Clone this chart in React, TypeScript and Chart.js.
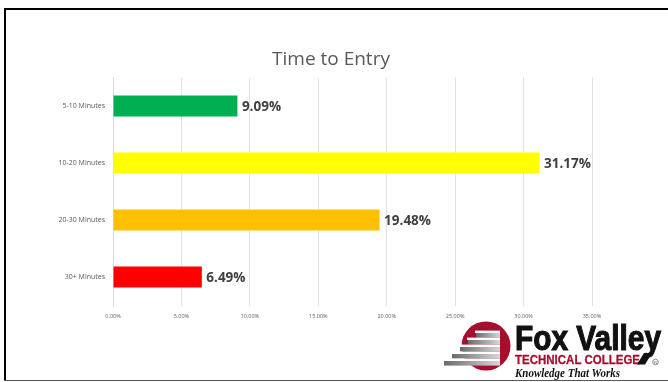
import React, { useEffect, useRef } from "react";
import { Chart, registerables } from "chart.js";

Chart.register(...registerables);

const chartTitle = "Time to Entry";
const categories = ["5-10 Minutes", "10-20 Minutes", "20-30 Minutes", "30+ Minutes"];
const values = [9.09, 31.17, 19.48, 6.49];
const barColors = ["#00B050", "#FFFF00", "#FFC000", "#FF0000"];
const xMin = 0;
const xMax = 35;
const xStep = 5;

const W = 668;
const H = 382;
const AREA = { left: 113, right: 592, top: 77.5, bottom: 305.5 };

const valueLabels = {
  id: "valueLabels",
  afterDatasetsDraw(chart: any) {
    const ctx = chart.ctx;
    const meta = chart.getDatasetMeta(0);
    ctx.save();
    ctx.font = "bold 13.5px 'Open Sans'";
    ctx.fillStyle = "#404040";
    ctx.textAlign = "left";
    ctx.textBaseline = "middle";
    meta.data.forEach((bar: any, i: number) => {
      ctx.fillText(values[i].toFixed(2) + "%", bar.x + 4.5, bar.y + 1);
    });
    ctx.restore();
  },
};

function Logo() {
  const stripes = [0, 1, 2, 3, 4];
  return (
    <svg
      width={W}
      height={H}
      viewBox={`0 0 ${W} ${H}`}
      style={{ position: "absolute", left: 0, top: 0, pointerEvents: "none" }}
    >
      <defs>
        <linearGradient id="stripeGrad" x1="0" x2="1" y1="0" y2="0">
          <stop offset="0" stopColor="#6a6a6a" />
          <stop offset="1" stopColor="#d8d8d8" />
        </linearGradient>
      </defs>
      <circle cx={486} cy={346} r={24.5} fill="#A50E2D" />
      {stripes.map((i) => {
        const y = 333 + i * 7;
        const x0 = 476 - i * 8;
        return (
          <g key={i}>
            <rect x={x0 - 1} y={y - 2.4} width={501 - x0} height={2.4} fill="#ffffff" />
            <rect x={x0} y={y} width={500 - x0} height={4.6} fill="url(#stripeGrad)" />
          </g>
        );
      })}
      <text
        x={515}
        y={350}
        fontFamily="'Liberation Sans', Arial, sans-serif"
        fontWeight="bold"
        fontSize={35}
        fill="#111111"
        stroke="#111111"
        strokeWidth={1.1}
        textLength={146}
        lengthAdjust="spacingAndGlyphs"
      >
        Fox Valley
      </text>
      <text
        x={515}
        y={364}
        fontFamily="'Liberation Sans', Arial, sans-serif"
        fontWeight="bold"
        fontSize={13.5}
        fill="#A50E2D"
        stroke="#A50E2D"
        strokeWidth={0.3}
        textLength={125}
        lengthAdjust="spacingAndGlyphs"
      >
        TECHNICAL COLLEGE
      </text>
      <polygon points="644,353 652,353 645,364.5 637,364.5" fill="#111111" />
      <circle cx={655.5} cy={362} r={2.8} fill="none" stroke="#444" strokeWidth={0.6} />
      <text x={654.2} y={363.6} fontSize={3.8} fontFamily="'Liberation Sans'" fill="#444">
        R
      </text>
      <text
        x={515}
        y={377}
        fontFamily="'Liberation Serif', serif"
        fontWeight="bold"
        fontStyle="italic"
        fontSize={13}
        fill="#111111"
        textLength={105}
        lengthAdjust="spacingAndGlyphs"
      >
        Knowledge That Works
      </text>
    </svg>
  );
}

export default function App() {
  const canvasRef = useRef<HTMLCanvasElement | null>(null);

  useEffect(() => {
    document.body.style.margin = "0";
    const canvas = canvasRef.current;
    if (!canvas) return;
    const chart = new Chart(canvas, {
      type: "bar",
      data: {
        labels: categories,
        datasets: [
          {
            data: values,
            backgroundColor: barColors,
            borderWidth: 0,
            barPercentage: 0.37,
            categoryPercentage: 1,
          },
        ],
      },
      options: {
        indexAxis: "y",
        animation: false,
        responsive: false,
        maintainAspectRatio: false,
        devicePixelRatio: 1,
        layout: {
          padding: { left: 0, right: W - AREA.right, top: AREA.top, bottom: 0 },
        },
        plugins: {
          legend: { display: false },
          title: { display: false },
          tooltip: { enabled: false },
        },
        scales: {
          x: {
            type: "linear",
            position: "bottom",
            min: xMin,
            max: xMax,
            ticks: {
              stepSize: xStep,
              padding: 8,
              color: "#595959",
              font: { family: "'Open Sans'", size: 5.5 },
              callback: (v: any) => Number(v).toFixed(2) + "%",
              maxRotation: 0,
            },
            grid: { color: "#E2E2E2", lineWidth: 1, drawTicks: false },
            border: { display: false },
            afterFit: (s: any) => {
              s.height = H - AREA.bottom;
            },
          },
          y: {
            type: "category",
            position: "left",
            ticks: {
              padding: 8,
              color: "#595959",
              font: { family: "'Open Sans'", size: 7 },
            },
            grid: { display: false, drawTicks: false },
            border: { display: true, color: "#D9D9D9", width: 1 },
            afterFit: (s: any) => {
              s.width = AREA.left;
            },
          },
        },
      },
      plugins: [valueLabels],
    });
    return () => chart.destroy();
  }, []);

  return (
    <div
      style={{
        position: "fixed",
        left: 0,
        top: 0,
        width: W,
        height: H,
        background: "#ffffff",
        overflow: "hidden",
      }}
    >
      <canvas ref={canvasRef} width={W} height={H} style={{ position: "absolute", left: 0, top: 0, width: W, height: H }} />
      <div
        style={{
          position: "absolute",
          left: 231,
          width: 200,
          top: 45,
          textAlign: "center",
          fontFamily: "'Open Sans', sans-serif",
          fontSize: 19,
          lineHeight: "26px",
          color: "#595959",
          whiteSpace: "nowrap",
        }}
      >
        {chartTitle}
      </div>
      <Logo />
      <div style={{ position: "absolute", left: 4, top: 8, width: W - 4, height: 2, background: "#000" }} />
      <div style={{ position: "absolute", left: 4, top: 8, width: 2, height: 373, background: "#000" }} />
      <div style={{ position: "absolute", left: 4, top: 380, width: W - 4, height: 1, background: "#555" }} />
    </div>
  );
}
